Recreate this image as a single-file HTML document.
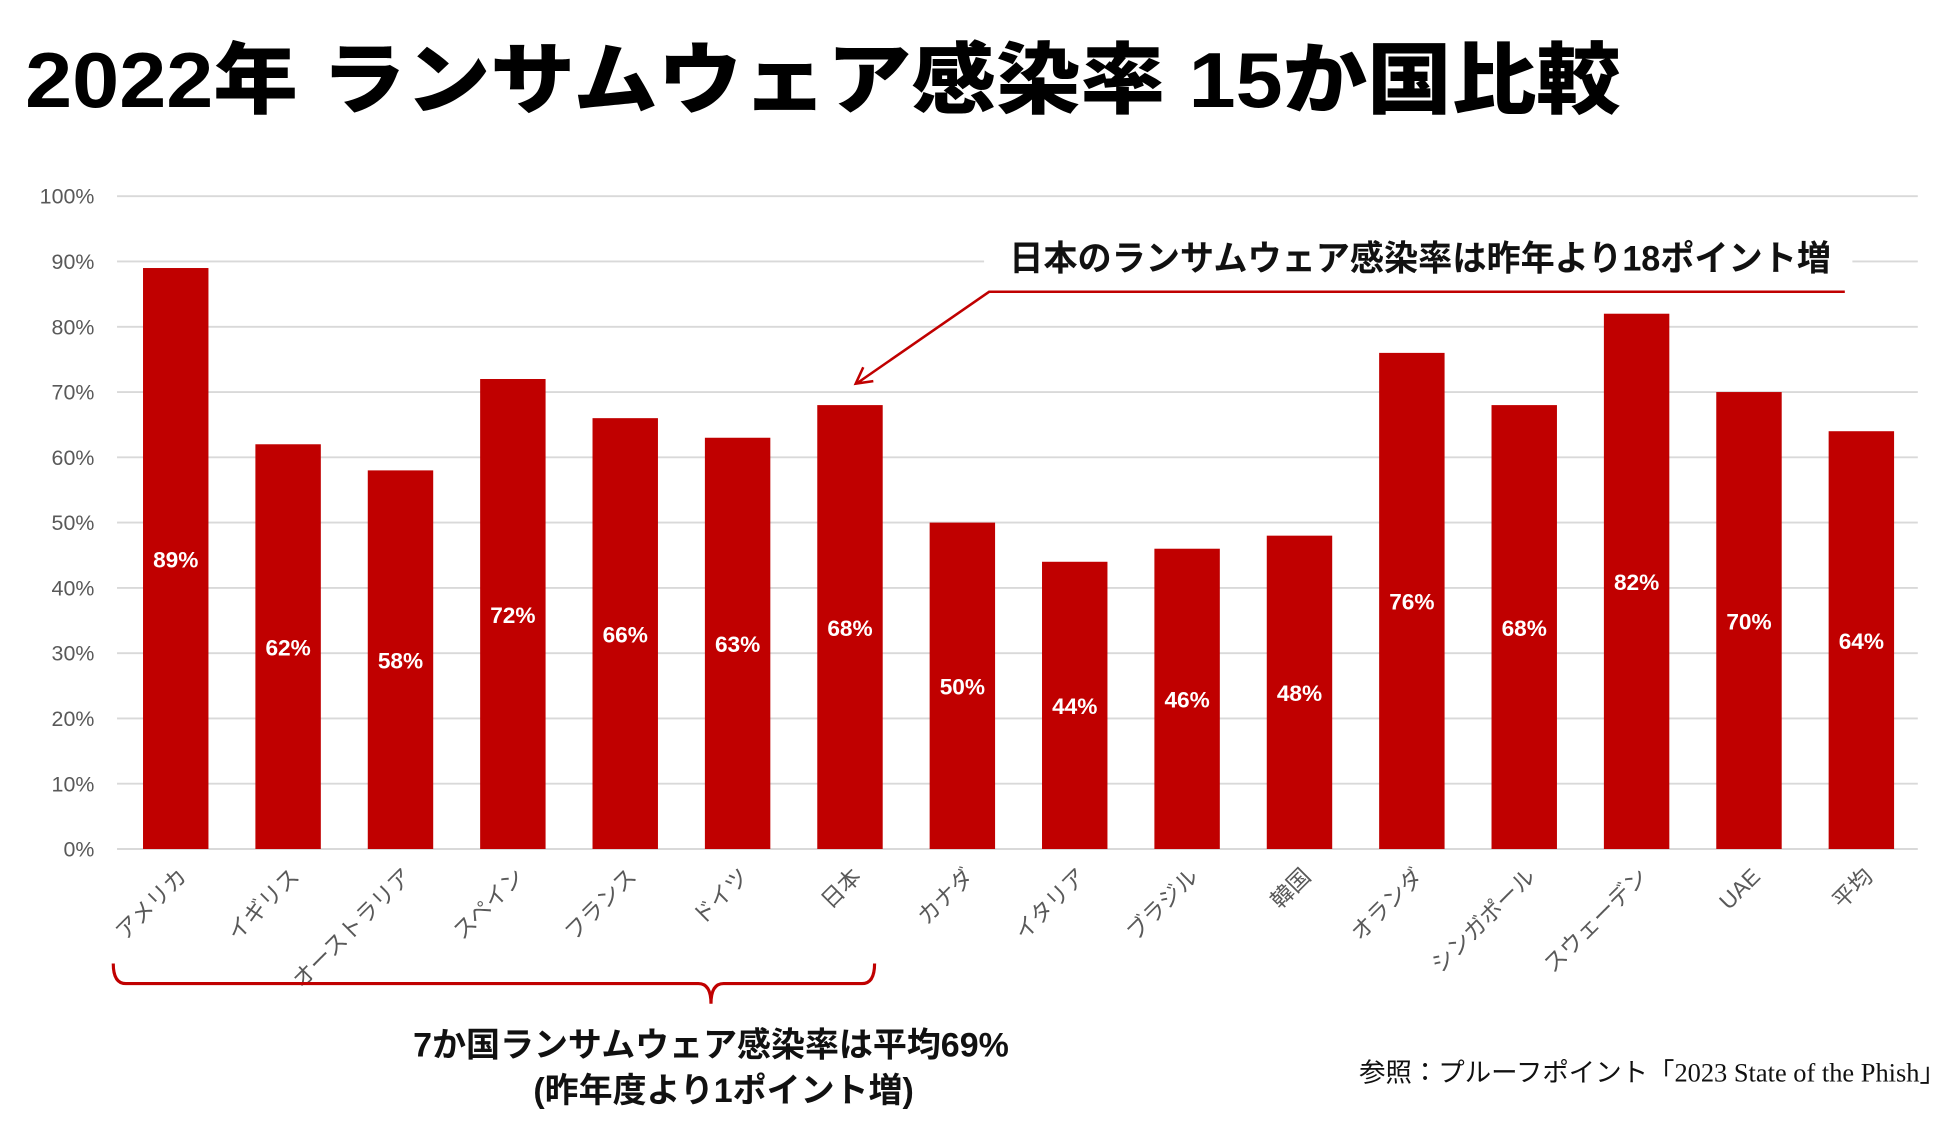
<!DOCTYPE html>
<html><head><meta charset="utf-8"><style>
html,body{margin:0;padding:0;background:#fff;width:1948px;height:1132px;overflow:hidden}
svg{display:block}
text{font-family:"Liberation Sans","Noto Sans CJK JP",sans-serif}
</style></head><body>
<svg id="chart" width="1948" height="1132" viewBox="0 0 1548 900" preserveAspectRatio="none">
<text x="20" y="85" font-size="62" font-weight="900" fill="#000" textLength="1268" lengthAdjust="spacingAndGlyphs">2022年 ランサムウェア感染率 15か国比較</text>
<g id="grid"></g>
<g id="bars"></g>
<g id="xlabels"></g>
<g>
<rect x="782" y="186" width="690" height="40" fill="#fff"/>
<text x="802" y="215" font-size="28" font-weight="bold" fill="#111" textLength="653" lengthAdjust="spacingAndGlyphs">日本のランサムウェア感染率は昨年より18ポイント増</text>
<polyline points="1466,232 786,232 682,304" fill="none" stroke="#c00000" stroke-width="2"/>
<polyline points="686,292 680,305 694,303" fill="none" stroke="#c00000" stroke-width="2"/>
</g>
<path d="M90,766 Q90,782 100,782 L555,782 Q565,782 565,798 Q565,782 575,782 L685,782 Q695,782 695,766" fill="none" stroke="#c00000" stroke-width="2.5"/>
<text x="565" y="840" font-size="27" font-weight="bold" text-anchor="middle" fill="#111">7か国ランサムウェア感染率は平均69%</text>
<text x="575" y="876" font-size="27" font-weight="bold" text-anchor="middle" fill="#111">(昨年度より1ポイント増)</text>
<text x="1080" y="860" font-size="21" fill="#111" style="font-family:'Liberation Serif','Noto Sans CJK JP',serif">参照：プルーフポイント「2023 State of the Phish」</text>
</svg>
<script>
const categories=["アメリカ","イギリス","オーストラリア","スペイン","フランス","ドイツ","日本","カナダ","イタリア","ブラジル","韓国","オランダ","シンガポール","スウェーデン","UAE","平均"];
const values=[89,62,58,72,66,63,68,50,44,46,48,76,68,82,70,64];
const yTicks=[0,10,20,30,40,50,60,70,80,90,100];
const NS="http://www.w3.org/2000/svg";
const y0=675,y100=156,xStart=95,step=89.3,bw=52;
const yScale=v=>y0-(y0-y100)*v/100;
const xCenter=i=>xStart+step*(i+0.5);
function mk(t,a,p){const e=document.createElementNS(NS,t);for(const k in a)e.setAttribute(k,a[k]);p.appendChild(e);return e;}
const grid=document.getElementById('grid'),bars=document.getElementById('bars'),xl=document.getElementById('xlabels');
yTicks.forEach(t=>{
 const l=mk('line',{x1:93,x2:1524,y1:yScale(t),y2:yScale(t),stroke:'#d9d9d9','stroke-width':1.5},grid);
 
 
 const tx=mk('text',{x:75,y:yScale(t)+6,'font-size':17,fill:'#595959','text-anchor':'end'},grid);
 tx.textContent=t+'%';
 
 
});
values.forEach((v,i)=>{
 const cx=xCenter(i);
 const r=mk('rect',{x:cx-bw/2,y:yScale(v),width:bw,height:y0-yScale(v),fill:'#c00000'},bars);
 
 
 const t=mk('text',{x:cx,y:(yScale(v)+y0)/2+7,'font-size':18,'font-weight':'bold',fill:'#fff','text-anchor':'middle'},bars);
 t.textContent=v+'%';
 
 
 const c=mk('text',{x:cx+10,y:698,'font-size':18,fill:'#595959','text-anchor':'end',transform:`rotate(-45 ${cx+10} 698)`},xl);
 c.textContent=categories[i];
 
 
});
</script>
</body></html>
